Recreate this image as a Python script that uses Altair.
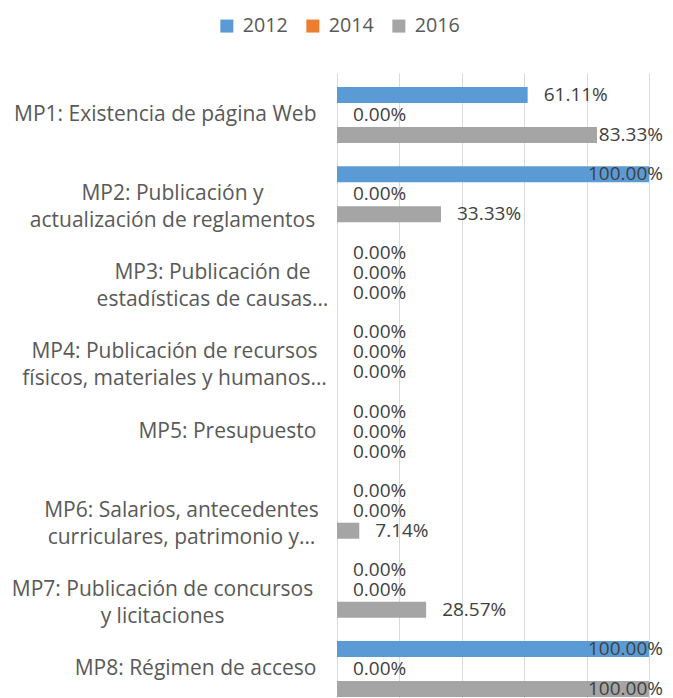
import altair as alt
import pandas as pd

categories = [
    "MP1: Existencia de página Web",
    "MP2: Publicación y|actualización de reglamentos",
    "MP3: Publicación de|estadísticas de causas…",
    "MP4: Publicación de recursos|físicos, materiales y humanos…",
    "MP5: Presupuesto",
    "MP6: Salarios, antecedentes|curriculares, patrimonio y…",
    "MP7: Publicación de concursos|y licitaciones",
    "MP8: Régimen de acceso",
]
series = ["2012", "2014", "2016"]
v2012 = [0.6111, 1.0, 0.0, 0.0, 0.0, 0.0, 0.0, 1.0]
v2014 = [0.0, 0.0, 0.0, 0.0, 0.0, 0.0, 0.0, 0.0]
v2016 = [0.8333, 0.3333, 0.0, 0.0, 0.0, 0.0714, 0.2857, 1.0]
colors = ["#5B9BD5", "#ED7D31", "#A5A5A5"]

rows = []
for i, c in enumerate(categories):
    for s, vals in zip(series, [v2012, v2014, v2016]):
        rows.append({"cat": c, "serie": s, "val": vals[i]})
df = pd.DataFrame(rows)

# two-line labels are centred line by line (as in the original); the padding
# puts the centre of each two-line block where the original shows it
wrapped_padding = {
    categories[1]: 165,
    categories[2]: 125,
    categories[3]: 163,
    categories[5]: 156,
    categories[6]: 175,
}
pad_conditions = [
    {"test": f"datum.value == '{k}'", "value": v} for k, v in wrapped_padding.items()
]

base = alt.Chart(df).encode(
    y=alt.Y(
        "cat:N",
        sort=categories,
        scale=alt.Scale(paddingInner=0.292, paddingOuter=0.177),
        axis=alt.Axis(
            title=None,
            labelExpr="split(datum.value, '|')",
            domain=False,
            ticks=False,
            labelAlign={
                "condition": {"test": "indexof(datum.value, '|') >= 0", "value": "center"},
                "value": "right",
            },
            labelPadding={"condition": pad_conditions, "value": 21},
            labelFont="Open Sans",
            labelFontSize=21,
            labelColor="#595959",
            labelLineHeight=27,
            labelLimit=400,
        ),
    ),
    yOffset=alt.YOffset("serie:N", sort=series, scale=alt.Scale(paddingInner=0.2)),
)

bars = base.mark_bar().encode(
    x=alt.X(
        "val:Q",
        scale=alt.Scale(domain=[0, 1]),
        axis=alt.Axis(
            values=[0, 0.2, 0.4, 0.6, 0.8, 1.0],
            labels=False,
            ticks=False,
            domain=False,
            title=None,
            gridColor="#D9D9D9",
            gridWidth=1,
        ),
    ),
    color=alt.Color(
        "serie:N",
        scale=alt.Scale(domain=series, range=colors),
        legend=alt.Legend(
            title=None,
            orient="none",
            legendX=-120,
            legendY=-57,
            direction="horizontal",
            symbolType="square",
            symbolSize=169,
            symbolStrokeWidth=0,
            labelFont="Open Sans",
            labelFontSize=19.7,
            labelColor="#595959",
            labelOffset=6,
            columnPadding=15,
            padding=0,
        ),
    ),
)

# labels that fit to the right of their bar
labels = base.mark_text(
    align="left", baseline="middle", dx=16, font="Open Sans", fontSize=19, color="#404040"
).encode(
    x=alt.X("val:Q"),
    text=alt.Text("val:Q", format=".2%"),
).transform_filter("datum.val < 0.8")

# labels that would overflow: pushed back inside the chart's right edge
labels_edge = base.mark_text(
    align="right", baseline="middle", dx=14, font="Open Sans", fontSize=19, color="#404040"
).encode(
    x=alt.datum(1.0),
    text=alt.Text("val:Q", format=".2%"),
).transform_filter("datum.val >= 0.8")

chart = (
    (bars + labels + labels_edge)
    .properties(
        width=312,
        height=638,
        autosize=alt.AutoSizeParams(type="none"),
        padding={"left": 329, "top": 65, "right": 16, "bottom": 0},
    )
    .configure_view(stroke=None)
)

chart.save("out.html", embed_options={"renderer": "svg", "actions": False})
